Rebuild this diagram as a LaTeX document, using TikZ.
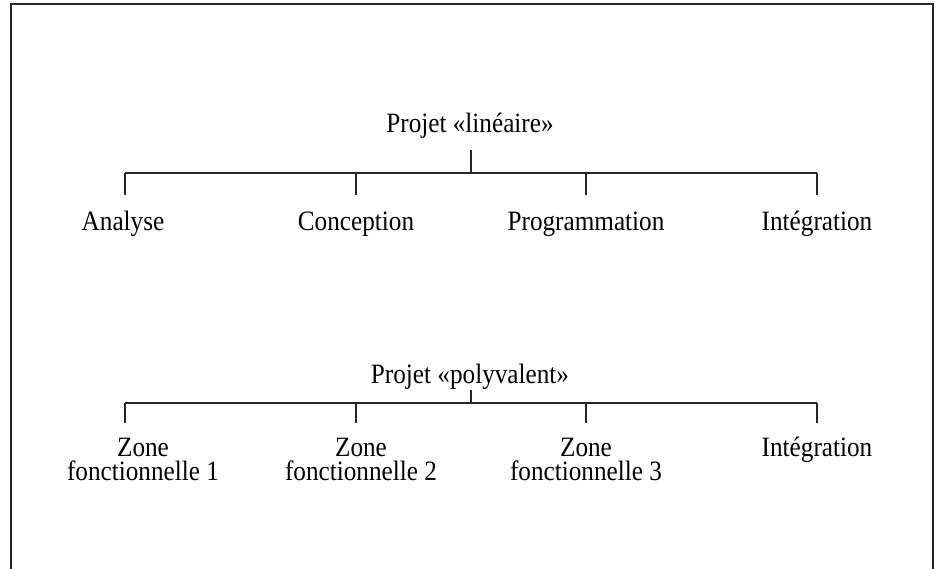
\documentclass[tikz,border=0pt]{standalone}
\usepackage{fontspec}
\setmainfont{Liberation Serif}[FakeStretch=0.9]
\begin{document}
\begin{tikzpicture}[x=1pt,y=-1pt,
  lbl/.style={font=\fontsize{28}{24}\selectfont, inner sep=0pt, anchor=base, align=center},
  ln/.style={line width=1.3pt, black!85}]
\useasboundingbox (0,0) rectangle (936,569);
\draw[ln] (11,569) -- (11,4) -- (933,4) -- (933,569);
% top tree
\node[lbl] (p1) at (470,133) {Projet «linéaire»};
\coordinate (s1) at (471,150);
\coordinate (b1) at (471,173);
\coordinate (l1) at (125,173);
\coordinate (r1) at (817,173);
\coordinate (d1a) at (125,195);
\coordinate (d1b) at (356,195);
\coordinate (d1c) at (586,195);
\coordinate (d1d) at (817,195);
\draw[ln] (s1) -- (b1);
\draw[ln] (l1) -- (r1);
\draw[ln] (l1) -- (d1a);
\draw[ln] (d1b |- b1) -- (d1b);
\draw[ln] (d1c |- b1) -- (d1c);
\draw[ln] (r1) -- (d1d);
\node[lbl] (a) at (123,231) {Analyse};
\node[lbl] (c) at (356,231) {Conception};
\node[lbl] (pr) at (586,231) {Programmation};
\node[lbl] (i1) at (817,231) {Intégration};
% bottom tree
\node[lbl] (p2) at (470,383) {Projet «polyvalent»};
\coordinate (s2) at (471,390);
\coordinate (b2) at (471,403);
\coordinate (l2) at (125,403);
\coordinate (r2) at (817,403);
\coordinate (d2a) at (125,423);
\coordinate (d2b) at (356,423);
\coordinate (d2c) at (586,423);
\coordinate (d2d) at (817,423);
\draw[ln] (s2) -- (b2);
\draw[ln] (l2) -- (r2);
\draw[ln] (l2) -- (d2a);
\draw[ln] (d2b |- b2) -- (d2b);
\draw[ln] (d2c |- b2) -- (d2c);
\draw[ln] (r2) -- (d2d);
\node[lbl] (z1) at (143,480) {Zone\\fonctionnelle 1};
\node[lbl] (z2) at (361,480) {Zone\\fonctionnelle 2};
\node[lbl] (z3) at (586,480) {Zone\\fonctionnelle 3};
\node[lbl] (i2) at (817,456) {Intégration};
\end{tikzpicture}
\end{document}
